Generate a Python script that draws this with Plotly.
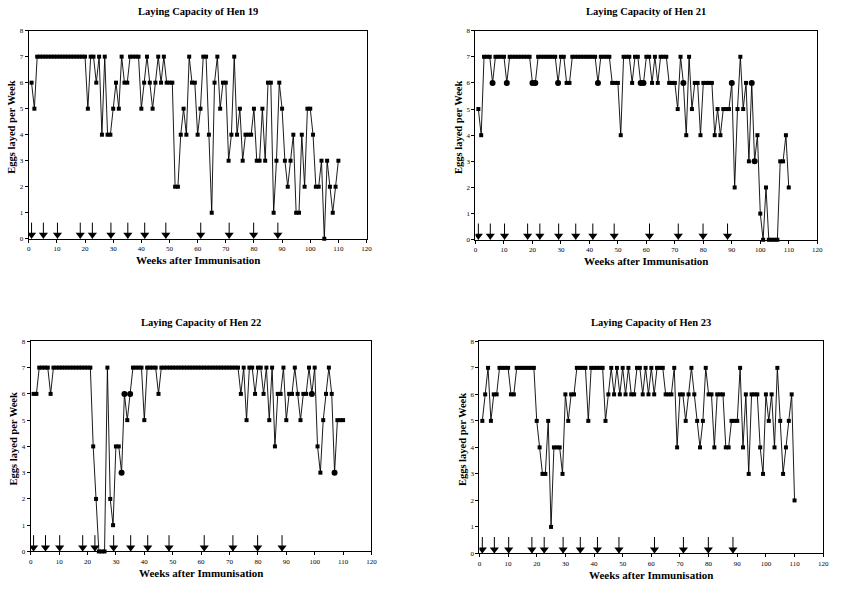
import plotly.graph_objects as go

weeks = list(range(1, 111))

hen19 = [6, 5, 7, 7, 7, 7, 7, 7, 7, 7,
         7, 7, 7, 7, 7, 7, 7, 7, 7, 7,
         5, 7, 7, 6, 7, 4, 7, 4, 4, 5,
         6, 5, 7, 6, 6, 7, 7, 7, 7, 5,
         6, 7, 6, 5, 6, 7, 6, 7, 6, 6,
         6, 2, 2, 4, 5, 4, 7, 6, 6, 4,
         5, 7, 7, 4, 1, 6, 7, 5, 6, 6,
         3, 4, 7, 4, 5, 3, 4, 4, 4, 5,
         3, 3, 5, 3, 6, 6, 1, 3, 6, 5,
         3, 2, 3, 4, 1, 1, 4, 2, 5, 5,
         4, 2, 2, 3, 0, 3, 2, 1, 2, 3]

hen21 = [5, 4, 7, 7, 7, 6, 7, 7, 7, 7,
         6, 7, 7, 7, 7, 7, 7, 7, 7, 6,
         6, 7, 7, 7, 7, 7, 7, 7, 6, 7,
         7, 6, 6, 7, 7, 7, 7, 7, 7, 7,
         7, 7, 6, 7, 7, 7, 7, 6, 6, 6,
         4, 7, 7, 7, 6, 7, 7, 6, 6, 7,
         7, 6, 7, 6, 7, 7, 7, 6, 6, 6,
         5, 7, 6, 4, 7, 5, 6, 6, 4, 6,
         6, 6, 6, 4, 5, 4, 5, 5, 5, 6,
         2, 5, 7, 5, 6, 3, 6, 3, 4, 1,
         0, 2, 0, 0, 0, 0, 3, 3, 4, 2]

hen22 = [6, 6, 7, 7, 7, 7, 6, 7, 7, 7,
         7, 7, 7, 7, 7, 7, 7, 7, 7, 7,
         7, 4, 2, 0, 0, 0, 7, 2, 1, 4,
         4, 3, 6, 5, 6, 7, 7, 7, 7, 5,
         7, 7, 7, 7, 6, 7, 7, 7, 7, 7,
         7, 7, 7, 7, 7, 7, 7, 7, 7, 7,
         7, 7, 7, 7, 7, 7, 7, 7, 7, 7,
         7, 7, 7, 6, 7, 5, 7, 7, 6, 7,
         7, 6, 7, 5, 7, 4, 6, 6, 7, 5,
         6, 6, 7, 6, 5, 6, 6, 7, 6, 7,
         4, 3, 5, 6, 7, 6, 3, 5, 5, 5]

hen23 = [5, 6, 7, 5, 6, 6, 7, 7, 7, 7,
         6, 6, 7, 7, 7, 7, 7, 7, 7, 5,
         4, 3, 3, 5, 1, 4, 4, 4, 3, 6,
         5, 6, 6, 7, 7, 7, 7, 5, 7, 7,
         7, 7, 7, 5, 6, 7, 6, 7, 6, 7,
         6, 7, 6, 6, 7, 7, 6, 7, 6, 7,
         6, 7, 7, 7, 6, 6, 6, 7, 4, 6,
         6, 5, 6, 7, 6, 5, 4, 5, 7, 6,
         6, 4, 6, 6, 6, 4, 4, 5, 5, 5,
         7, 4, 6, 3, 6, 6, 6, 4, 3, 6,
         5, 6, 4, 7, 5, 3, 4, 5, 6, 2]

# weeks drawn with a round marker in the reference
circled19 = []
circled21 = [6, 11, 20, 21, 29, 43, 58, 59, 73, 90, 97, 98]
circled22 = [32, 33, 35, 99, 107]
circled23 = []

immunisation_weeks = [1, 5.2, 10.2, 18.3, 22.6, 29.2, 35.2, 41.2, 48.7, 61.1, 71.2, 79.9, 88.5]
arrow_top = 0.62
arrow_head_y = 0.15

x_ticks = [0, 10, 20, 30, 40, 50, 60, 70, 80, 90, 100, 110, 120]
y_ticks = [0, 1, 2, 3, 4, 5, 6, 7, 8]

titles = ["Laying Capacity of Hen 19", "Laying Capacity of Hen 21",
          "Laying Capacity of Hen 22", "Laying Capacity of Hen 23"]
series = [hen19, hen21, hen22, hen23]
circled = [circled19, circled21, circled22, circled23]

W, H = 849, 589
# plot boxes in pixels: (left, right, top, bottom)
boxes = [(27, 368, 27, 238), (478, 823, 27, 239), (29, 373, 342, 555), (482, 829, 342, 557)]

FONT = "Times New Roman, Liberation Serif, serif"
fig = go.Figure()
annotations = []

for i, (vals, circ, title, box) in enumerate(zip(series, circled, titles, boxes)):
    l, r, t, b = box
    xa = "x" if i == 0 else f"x{i+1}"
    ya = "y" if i == 0 else f"y{i+1}"
    xkey = "xaxis" if i == 0 else f"xaxis{i+1}"
    ykey = "yaxis" if i == 0 else f"yaxis{i+1}"
    axis_common = dict(showgrid=False, zeroline=False, showline=True, mirror=True,
                       linecolor="black", linewidth=1, ticks="outside", ticklen=3,
                       tickwidth=1, tickcolor="black",
                       tickfont=dict(family=FONT, size=7, color="black"))
    fig.update_layout({
        xkey: dict(axis_common, domain=[l / W, r / W], range=[0, 120],
                   tickvals=x_ticks, anchor=ya, fixedrange=True),
        ykey: dict(axis_common, domain=[1 - b / H, 1 - t / H], range=[0, 8],
                   tickvals=y_ticks, anchor=xa, fixedrange=True),
    })
    # arrows for immunisation
    ax_x, ax_y = [], []
    for wk in immunisation_weeks:
        ax_x += [wk, wk, None]
        ax_y += [0, arrow_top, None]
    fig.add_trace(go.Scatter(x=ax_x, y=ax_y, mode="lines", xaxis=xa, yaxis=ya,
                             line=dict(color="black", width=1), showlegend=False,
                             hoverinfo="skip"))
    fig.add_trace(go.Scatter(x=immunisation_weeks, y=[arrow_head_y] * len(immunisation_weeks),
                             mode="markers", xaxis=xa, yaxis=ya,
                             marker=dict(symbol="triangle-down", size=8, color="black",
                                         line=dict(width=0)),
                             showlegend=False, hoverinfo="skip"))
    # line and square markers
    fig.add_trace(go.Scatter(x=weeks, y=vals, mode="lines+markers", xaxis=xa, yaxis=ya,
                             line=dict(color="black", width=0.9),
                             marker=dict(symbol="square", size=4, color="black",
                                         opacity=1, line=dict(width=0)),
                             cliponaxis=False, showlegend=False))
    # round markers
    cx_pts = [w for w in weeks if w in circ]
    cy_pts = [vals[w - 1] for w in cx_pts]
    if cx_pts:
        fig.add_trace(go.Scatter(x=cx_pts, y=cy_pts, mode="markers", xaxis=xa, yaxis=ya,
                                 marker=dict(symbol="circle", size=6, color="black",
                                             opacity=1, line=dict(width=0)),
                                 cliponaxis=False, showlegend=False))
    cx = (l + r) / 2 / W
    annotations.append(dict(text=f"<b>{title}</b>", x=cx, y=1 - (t - 19) / H, xref="paper", yref="paper",
                            showarrow=False, font=dict(family=FONT, size=10.5, color="black"),
                            xanchor="center", yanchor="middle"))
    annotations.append(dict(text="<b>Weeks after Immunisation</b>", x=cx, y=1 - (b + 22) / H,
                            xref="paper", yref="paper", showarrow=False,
                            font=dict(family=FONT, size=11, color="black"),
                            xanchor="center", yanchor="middle"))
    annotations.append(dict(text="<b>Eggs layed per Week</b>", x=(l - 17) / W,
                            y=1 - ((t + b) / 2 - 8) / H, xref="paper", yref="paper",
                            showarrow=False, textangle=-90,
                            font=dict(family=FONT, size=10.5, color="black"),
                            xanchor="center", yanchor="middle"))

fig.update_layout(width=W, height=H, margin=dict(l=0, r=0, t=0, b=0),
                  paper_bgcolor="white", plot_bgcolor="white",
                  annotations=annotations, showlegend=False)

fig.write_html("out.html", config={"displayModeBar": False},
               post_script="document.body.style.margin='0';")
